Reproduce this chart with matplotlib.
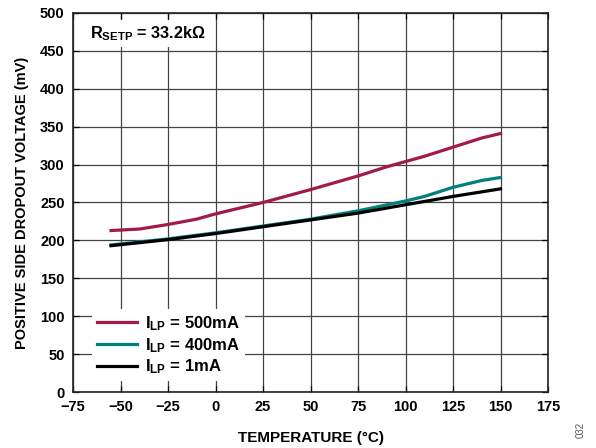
import matplotlib

matplotlib.use("Agg")
import matplotlib.pyplot as plt  # noqa: E402

plt.rcParams["font.family"] = ["Liberation Sans", "DejaVu Sans"]
plt.rcParams["font.weight"] = "bold"
plt.rcParams["mathtext.fontset"] = "custom"
plt.rcParams["mathtext.rm"] = "Liberation Sans:bold"
plt.rcParams["mathtext.it"] = "Liberation Sans:bold"
plt.rcParams["mathtext.bf"] = "Liberation Sans:bold"
plt.rcParams["mathtext.default"] = "regular"

# temperature (degC) and dropout voltage (mV)
temp_500 = [-55, -40, -25, -10, 0, 25, 50, 75, 90, 100, 110, 125, 140, 150]
drop_500 = [213, 215, 221, 228, 235, 250, 267, 285, 297, 304, 311, 323, 335, 341]

temp_400 = [-55, -40, -25, 0, 25, 50, 75, 100, 110, 125, 140, 150]
drop_400 = [194, 198, 202, 210, 219, 228, 239, 252, 258, 270, 279, 283]

temp_1 = [-55, -40, -25, 0, 25, 50, 75, 100, 125, 150]
drop_1 = [193, 197, 201, 209, 218, 227, 236, 247, 258, 268]

labels = ["I$_{LP}$ = 500mA", "I$_{LP}$ = 400mA", "I$_{LP}$ = 1mA"]
colors = ["#A21A4A", "#00807A", "#000000"]

x_ticks = list(range(-75, 176, 25))
y_ticks = list(range(0, 501, 50))

fig = plt.figure(figsize=(5.96, 4.48), dpi=100)
ax = fig.add_axes([0.1225, 0.125, 0.797, 0.846])

ax.plot(temp_500, drop_500, color=colors[0], lw=2.3, label=labels[0])
ax.plot(temp_400, drop_400, color=colors[1], lw=2.3, label=labels[1])
ax.plot(temp_1, drop_1, color=colors[2], lw=2.3, label=labels[2])

ax.set_xlim(-75, 175)
ax.set_ylim(0, 500)
ax.set_xticks(x_ticks)
ax.set_yticks(y_ticks)
ax.set_xticklabels(["\u2212" + str(-t) if t < 0 else str(t) for t in x_ticks])
ax.grid(True, color="#444444", lw=0.9)
ax.set_axisbelow(True)
ax.tick_params(direction="in", length=4, width=0.9, labelsize=10.5,
               top=True, right=True, pad=6)
for s in ax.spines.values():
    s.set_linewidth(1.2)
    s.set_color("#222222")

ax.set_xlabel("TEMPERATURE (\u00b0C)", fontsize=11, fontweight="bold", labelpad=12)
ax.set_ylabel("POSITIVE SIDE DROPOUT VOLTAGE (mV)", fontsize=10.5,
              fontweight="bold", labelpad=8)

ax.text(-66, 473, "R$_{SETP}$ = 33.2k\u03a9", fontsize=11.7, fontweight="bold",
        va="center", ha="left",
        bbox=dict(facecolor="white", edgecolor="none", pad=3))

leg = ax.legend(loc="lower left", bbox_to_anchor=(0.04, 0.028), fontsize=12,
                frameon=True, framealpha=1, edgecolor="none", fancybox=False,
                handlelength=2.4, handletextpad=0.5, borderaxespad=0,
                borderpad=0.3, labelspacing=0.18)
leg.get_frame().set_facecolor("white")

fig.text(0.975, 0.04, "032", rotation=90, fontsize=7, fontweight="normal",
         color="#555555", ha="center", va="center")

fig.savefig("out.png", dpi=100)
plt.close(fig)
